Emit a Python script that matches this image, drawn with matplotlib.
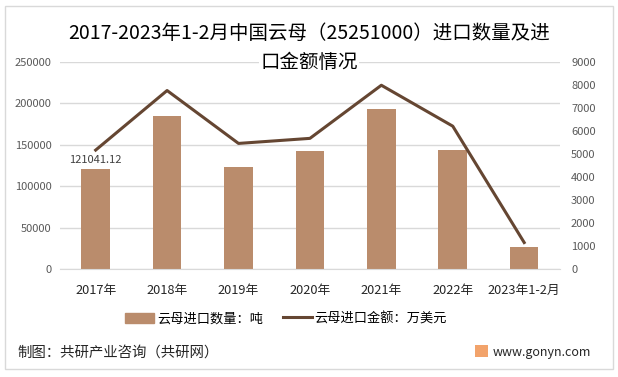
import numpy as np
import matplotlib.pyplot as plt
from matplotlib.patches import Rectangle, Patch
from matplotlib.lines import Line2D

plt.rcParams['font.family'] = ['Noto Sans CJK SC', 'DejaVu Sans']

# data
years = ['2017年', '2018年', '2019年', '2020年', '2021年', '2022年', '2023年1-2月']
qty_ton = [121041.12, 185200, 123300, 142800, 193800, 143200, 26500]      # 吨
amount_wan_usd = [5170, 7760, 5460, 5680, 7990, 6210, 1150]               # 万美元
left_ticks = [0, 50000, 100000, 150000, 200000, 250000]
right_ticks = list(range(0, 10000, 1000))

bar_color = '#BA8C6C'
line_color = '#654632'
tick_color = '#595959'

fig = plt.figure(figsize=(6.18, 3.77), dpi=100)
fig.patches.append(Rectangle((0.008, 0.02), 0.984, 0.965, transform=fig.transFigure,
                             fill=False, edgecolor='#D9D9D9', linewidth=1))

ax = fig.add_axes([0.097, 0.2865, 0.809, 0.549])
x = np.arange(len(years))
ax.bar(x, qty_ton, width=0.4, color=bar_color, zorder=2)
ax.set_xlim(-0.5, len(years) - 0.5)
ax.set_ylim(0, 250000)
ax.set_yticks(left_ticks)
ax.set_yticklabels([str(v) for v in left_ticks])
ax.grid(axis='y', color='#D9D9D9', linewidth=1, zorder=0)
for s in ax.spines.values():
    s.set_visible(False)
ax.spines['bottom'].set_visible(True)
ax.spines['bottom'].set_color('#D9D9D9')
ax.tick_params(length=0, labelsize=8, colors=tick_color, pad=6)
ax.set_xticks(x)
ax.set_xticklabels(years, fontsize=9.2, color='#262626')
ax.tick_params(axis='x', pad=11)
ax.text(x[0], qty_ton[0] + 5000, f'{qty_ton[0]:.2f}', ha='center', va='bottom',
        fontsize=8, color='#404040', zorder=5)

ax2 = ax.twinx()
ax2.plot(x, amount_wan_usd, color=line_color, linewidth=2.2, zorder=3)
ax2.set_ylim(0, 9000)
ax2.set_yticks(right_ticks)
for s in ax2.spines.values():
    s.set_visible(False)
ax2.tick_params(length=0, labelsize=8, colors=tick_color, pad=8)

fig.text(0.5, 0.912, '2017-2023年1-2月中国云母（25251000）进口数量及进', ha='center', va='center',
         fontsize=14, color='#000000')
fig.text(0.5, 0.833, '口金额情况', ha='center', va='center', fontsize=14, color='#000000',
         bbox=dict(facecolor='white', edgecolor='none', pad=1))

handles = [Patch(color=bar_color), Line2D([0], [0], color=line_color, linewidth=2.2)]
fig.legend(handles, ['云母进口数量：吨', '云母进口金额：万美元'], loc='center',
           bbox_to_anchor=(0.463, 0.155), ncol=2, frameon=False, fontsize=9.5,
           handlelength=2.2, handleheight=0.8, columnspacing=1.5, handletextpad=0.2)

fig.text(0.029, 0.066, '制图：共研产业咨询（共研网）', ha='left', va='center', fontsize=10.4, color='#262626')
fig.patches.append(Rectangle((0.769, 0.052), 0.02, 0.034, transform=fig.transFigure,
                             facecolor='#F2A36B', edgecolor='none'))
fig.text(0.797, 0.066, 'www.gonyn.com', ha='left', va='center', fontsize=9, color='#262626')

fig.savefig('out.png', dpi=100)
